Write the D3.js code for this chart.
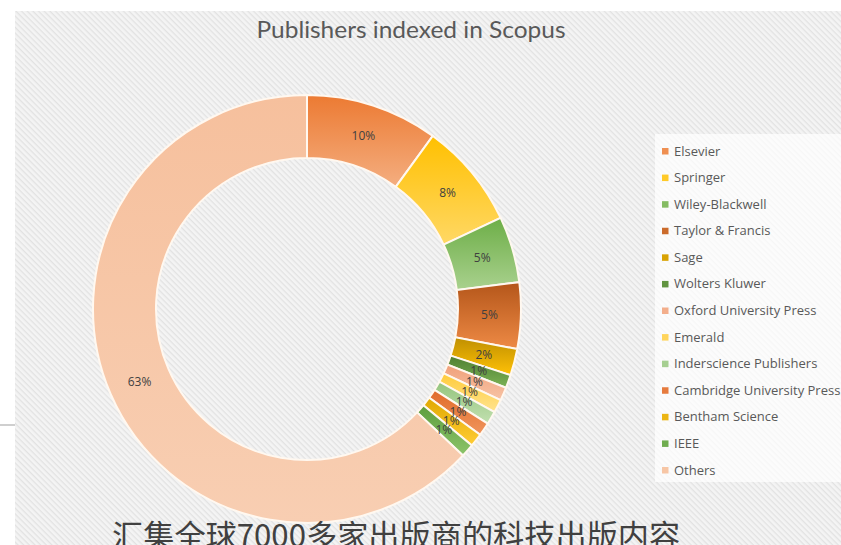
<!DOCTYPE html>
<html>
<head>
<meta charset="utf-8">
<script src="https://cdn.jsdelivr.net/npm/d3@7"></script>
<style>
  html, body { margin: 0; padding: 0; background: #fff; overflow: hidden; }
  svg { display: block; }
</style>
</head>
<body>
<div id="chart"></div>
<script>
// chart data
const publishers = ["Elsevier", "Springer", "Wiley-Blackwell", "Taylor & Francis", "Sage", "Wolters Kluwer",
  "Oxford University Press", "Emerald", "Inderscience Publishers", "Cambridge University Press",
  "Bentham Science", "IEEE", "Others"];
const shares = [10, 8, 5, 5, 2, 1, 1, 1, 1, 1, 1, 1, 63];
const chartTitle = "Publishers indexed in Scopus";
const caption = "汇集全球7000多家出版商的科技出版内容";

// [top, bottom] gradient colours per slice
const palette = [
  ["#EC7A32", "#F4AE80"], ["#FFC000", "#FFD865"], ["#6DAE47", "#A9D18E"], ["#B4561A", "#EE8A45"],
  ["#BF8F00", "#FFC107"], ["#4E7F32", "#7DB356"], ["#F0A07A", "#F7C3A5"], ["#FFCB3A", "#FFE38E"],
  ["#93C47D", "#C2E0B0"], ["#E06A2A", "#F0955C"], ["#E0A800", "#FFCC33"], ["#5E9E3E", "#8CC46A"],
  ["#F6C09D", "#F8CEB2"]
];

const width = 841, height = 545;
const cx = 307, cy = 309, outerR = 214, innerR = 151;

const svg = d3.select("#chart").append("svg")
  .attr("width", width)
  .attr("height", height);

const defs = svg.append("defs");

// striped background like the office chart style
const pat = defs.append("pattern")
  .attr("id", "stripes")
  .attr("patternUnits", "userSpaceOnUse")
  .attr("width", 4).attr("height", 4)
  .attr("patternTransform", "rotate(45)");
pat.append("rect").attr("width", 4).attr("height", 4).attr("fill", "#f4f4f4");
pat.append("rect").attr("width", 4).attr("height", 1.3).attr("fill", "#e2e2e2");

palette.forEach((c, i) => {
  const g = defs.append("linearGradient")
    .attr("id", "grad" + i)
    .attr("x1", 0).attr("y1", 0).attr("x2", 0).attr("y2", 1);
  g.append("stop").attr("offset", "0%").attr("stop-color", c[0]);
  g.append("stop").attr("offset", "100%").attr("stop-color", c[1]);
});

// chart area
svg.append("rect")
  .attr("x", 15).attr("y", 11)
  .attr("width", width - 15).attr("height", height - 11)
  .attr("fill", "url(#stripes)");

// little grey rule on the left of the slide
svg.append("line")
  .attr("x1", 0).attr("x2", 15)
  .attr("y1", 425).attr("y2", 425)
  .attr("stroke", "#cfcfcf").attr("stroke-width", 2);

svg.append("text")
  .attr("x", 411).attr("y", 38)
  .attr("text-anchor", "middle")
  .attr("fill", "#595959")
  .style("font-family", "Lato, 'Open Sans', sans-serif")
  .style("font-size", "23px")
  .attr("textLength", 309)
  .attr("lengthAdjust", "spacingAndGlyphs")
  .text(chartTitle);

const data = publishers.map((name, i) => ({ name: name, value: shares[i], idx: i }));

const pie = d3.pie()
  .value(d => d.value)
  .sort(null);

const arc = d3.arc()
  .innerRadius(innerR)
  .outerRadius(outerR);

const labelArc = d3.arc()
  .innerRadius((innerR + outerR) / 2)
  .outerRadius((innerR + outerR) / 2);

const donut = svg.append("g")
  .attr("transform", `translate(${cx}, ${cy})`);

const arcs = pie(data);

donut.selectAll("path")
  .data(arcs)
  .enter()
  .append("path")
  .attr("d", arc)
  .attr("fill", d => `url(#grad${d.data.idx})`)
  .attr("stroke", "#fff8f0")
  .attr("stroke-width", 2);

donut.selectAll("text")
  .data(arcs)
  .enter()
  .append("text")
  .attr("transform", d => `translate(${labelArc.centroid(d)})`)
  .attr("text-anchor", "middle")
  .attr("dy", "0.35em")
  .attr("fill", "#404040")
  .style("font-family", "'Open Sans', sans-serif")
  .style("font-size", "12px")
  .text(d => `${d.data.value}%`);

// legend
svg.append("rect")
  .attr("x", 655).attr("y", 134)
  .attr("width", width - 655).attr("height", 348)
  .attr("fill", "#fff").attr("opacity", 0.7);

const legendY = d3.scalePoint()
  .domain(publishers)
  .range([151, 470]);

const legend = svg.append("g").selectAll("g")
  .data(data)
  .enter()
  .append("g")
  .attr("transform", d => `translate(662, ${legendY(d.name)})`);

legend.append("rect")
  .attr("x", 0).attr("y", -3)
  .attr("width", 6.5).attr("height", 6.5)
  .attr("fill", d => d3.interpolateRgb(palette[d.idx][0], palette[d.idx][1])(0.4));

legend.append("text")
  .attr("x", 12)
  .attr("dy", "0.35em")
  .attr("fill", "#595959")
  .style("font-family", "'Open Sans', sans-serif")
  .style("font-size", "13px")
  .text(d => d.name);

svg.append("text")
  .attr("x", 112).attr("y", 547)
  .attr("fill", "#404040")
  .style("font-family", "'Noto Sans CJK SC', sans-serif")
  .style("font-size", "31.2px")
  .text(caption);
</script>
</body>
</html>
